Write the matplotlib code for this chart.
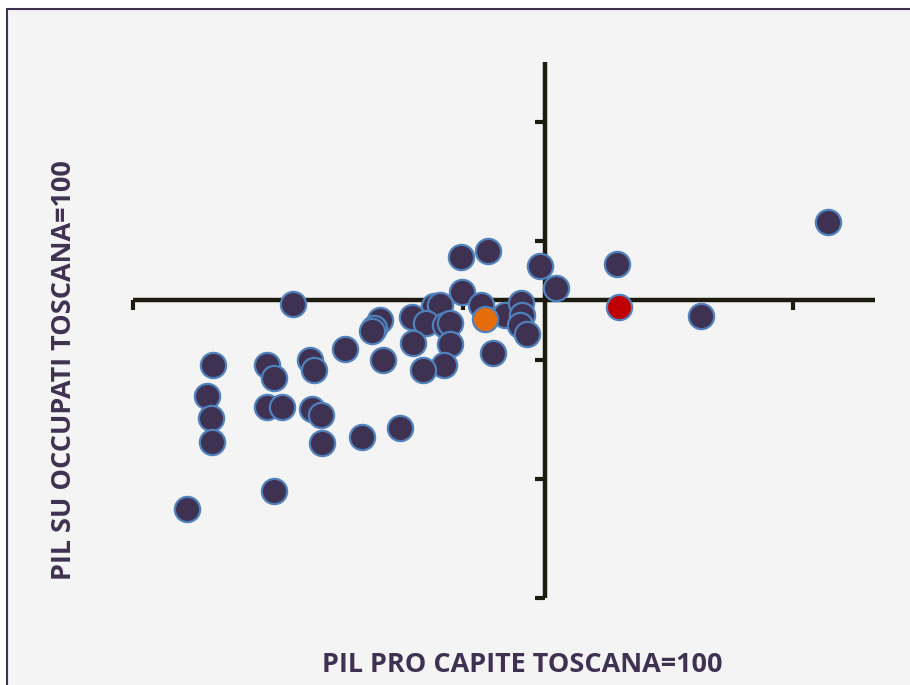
import matplotlib
matplotlib.use("Agg")
import matplotlib.pyplot as plt
from matplotlib.patches import Rectangle
from matplotlib import font_manager

# ---- data (x: PIL pro capite, Toscana=100; y: PIL su occupati, Toscana=100)
x_main = [134.3, 108.7, 118.9, 99.4, 101.3, 89.8, 93.1, 89.9, 69.4, 92.2,
          95.1, 97.1, 97.2, 96.9, 97.8, 86.5, 87.2, 83.8, 85.5, 87.8,
          88.5, 84.0, 88.5, 93.7, 80.0, 79.2, 79.0, 75.7, 80.3, 87.7,
          85.2, 59.7, 59.0, 59.5, 59.6, 56.6, 66.3, 67.1, 66.3, 68.1,
          71.5, 72.0, 71.7, 72.8, 72.9, 67.1, 77.8, 82.4]
y_main = [106.6, 103.0, 98.7, 102.9, 101.0, 103.6, 104.1, 100.7, 99.7, 99.6,
          98.8, 99.8, 98.8, 97.9, 97.2, 99.5, 99.6, 98.6, 98.1, 97.9,
          98.1, 96.4, 96.3, 95.6, 98.3, 97.7, 97.4, 95.9, 95.0, 94.6,
          94.1, 94.6, 92.0, 90.1, 88.1, 82.5, 94.6, 93.5, 91.0, 91.0,
          95.0, 94.1, 90.9, 90.4, 88.0, 84.0, 88.5, 89.3]
x_orange = [92.7]
y_orange = [98.4]
x_red = [109.0]
y_red = [99.4]

x_ticks = [50, 90, 130]
y_ticks = [75, 85, 95, 105, 115]
x_label = "PIL PRO CAPITE TOSCANA=100"
y_label = "PIL SU OCCUPATI TOSCANA=100"

# ---- style
W, H = 910, 685
DPI = 100
purple = "#3f3151"
edge_blue = "#4f81bd"
axis_col = "#1d1b10"
bg = "#f4f4f4"

avail = {f.name for f in font_manager.fontManager.ttflist}
fam = [f for f in ["Liberation Sans Narrow", "Open Sans", "DejaVu Sans"] if f in avail]

fig = plt.figure(figsize=(W / DPI, H / DPI), dpi=DPI)
fig.patch.set_facecolor("white")
panel = Rectangle((7 / W, -0.05), 1.2, 1 - 9 / H + 0.05, transform=fig.transFigure,
                  facecolor=bg, edgecolor=purple, linewidth=1.5, zorder=-10)
fig.patches.append(panel)

ax = fig.add_axes([133 / W, (H - 598) / H, (875 - 133) / W, (598 - 62) / H])
ax.set_zorder(5)
ax.set_facecolor("none")
ax.set_xlim(50, 140)
ax.set_ylim(75, 120)

for s in ["top", "right"]:
    ax.spines[s].set_visible(False)
ax.spines["left"].set_position(("data", 100))
ax.spines["bottom"].set_position(("data", 100))
for s in ["left", "bottom"]:
    ax.spines[s].set_linewidth(3.2)
    ax.spines[s].set_color(axis_col)
    ax.spines[s].set_capstyle("butt")

ax.set_xticks(x_ticks)
ax.set_yticks(y_ticks)
ax.tick_params(axis="both", direction="out", length=7, width=3, color=axis_col,
               labelbottom=False, labelleft=False)

ax.scatter(x_main, y_main, s=330, facecolor=purple, edgecolor=edge_blue,
           linewidth=1.6, zorder=3, clip_on=False)
ax.scatter(x_orange, y_orange, s=330, facecolor="#e46c0a", edgecolor=edge_blue,
           linewidth=1.6, zorder=4, clip_on=False)
ax.scatter(x_red, y_red, s=330, facecolor="#c00000", edgecolor=edge_blue,
           linewidth=1.6, zorder=4, clip_on=False)

tx = fig.text(522 / W, 1 - 665 / H, x_label, ha="center", va="center",
              fontsize=20, fontweight="bold", color=purple, family=fam)
ty = fig.text(64 / W, 1 - 370 / H, y_label, ha="center", va="center", rotation=90,
              fontsize=20, fontweight="bold", color=purple, family=fam)

# scale label font so the x-label spans ~400 px as in the reference
fig.canvas.draw()
r = fig.canvas.get_renderer()
wpx = tx.get_window_extent(r).width
fs = 20 * 400 / wpx
tx.set_fontsize(fs)
ty.set_fontsize(fs)

fig.savefig("out.png", dpi=DPI, facecolor=fig.get_facecolor())
